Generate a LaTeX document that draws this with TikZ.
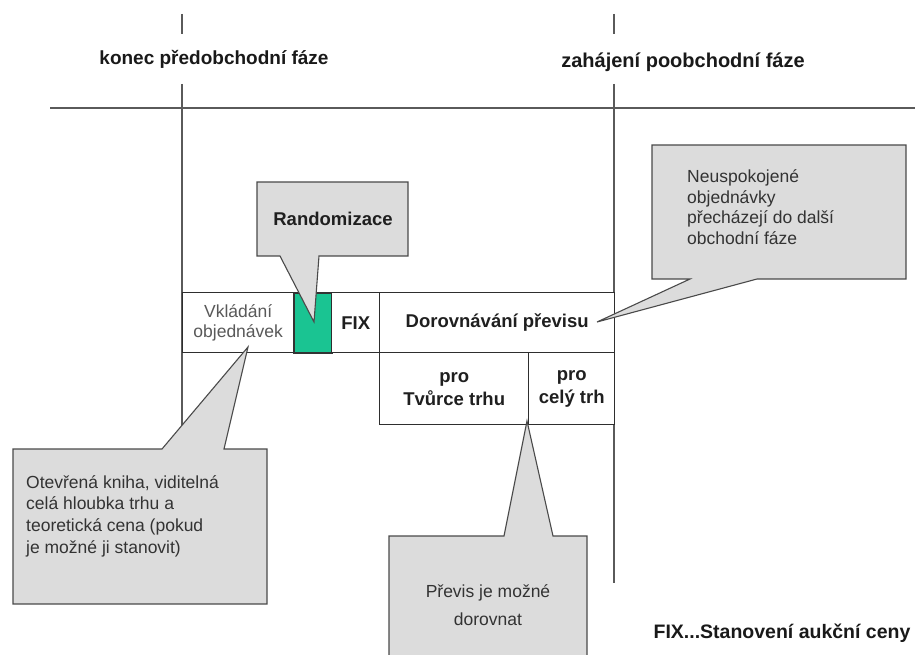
\documentclass[tikz,border=0pt]{standalone}
\usepackage{fontspec}
\setmainfont{Liberation Sans}
\definecolor{framegray}{HTML}{5A5A5A}
\definecolor{boxline}{HTML}{2E2E2E}
\definecolor{calloutfill}{HTML}{DCDCDC}
\definecolor{calloutline}{HTML}{4A4A4A}
\definecolor{calltext}{HTML}{333333}
\definecolor{randgreen}{RGB}{26,196,146}
\tikzset{
  frameline/.style={draw=framegray, line width=1.2pt},
  cellbox/.style={draw=boxline, line width=1.4pt, fill=white, anchor=north west, inner sep=0pt, align=center},
  boldtxt/.style={font=\bfseries\fontsize{18.5}{23}\selectfont, text=black!88},
  regtxt/.style={font=\fontsize{17.5}{20}\selectfont, text=calltext},
  callout/.style={fill=calloutfill, draw=calloutline, line width=1.1pt, line join=miter},
  headtxt/.style={font=\bfseries\fontsize{19}{22}\selectfont, text=black!90, inner sep=0pt}
}
\begin{document}
\begin{tikzpicture}[x=1pt,y=-1pt]
\useasboundingbox (0,0) rectangle (915,655);
% frame lines
\coordinate (lt1) at (182,14); \coordinate (lt2) at (182,34);
\coordinate (lv1) at (182,84); \coordinate (lv2) at (182,450);
\coordinate (rt1) at (614,14); \coordinate (rt2) at (614,34);
\coordinate (rv1) at (614,84); \coordinate (rv2) at (614,583);
\coordinate (h1) at (50,108); \coordinate (h2) at (915,108);
\draw[frameline] (lt1) -- (lt2);
\draw[frameline] (lv1) -- (lv2);
\draw[frameline] (rt1) -- (rt2);
\draw[frameline] (rv1) -- (rv2);
\draw[frameline] (h1) -- (h2);
% headers
\node[headtxt] (hleft) at (214,59) {konec předobchodní fáze};
\node[headtxt, font=\bfseries\fontsize{20}{22}\selectfont] (hright) at (683,62) {zahájení poobchodní fáze};
% boxes
\node[cellbox, minimum width=111pt, minimum height=60pt, regtxt, text=black!65] (vk) at (182,292) {Vkládání\\objednávek};
\node[cellbox, minimum width=38pt, minimum height=60pt, fill=randgreen, draw=black!80, line width=1.8pt] (rg) at (293,292) {};
\node[cellbox, minimum width=48pt, minimum height=60pt, boldtxt] (fix) at (331,292) {FIX};
\node[cellbox, minimum width=235pt, minimum height=60pt, boldtxt] (dor) at (379,292) {Dorovnávání převisu};
\node[cellbox, minimum width=149pt, minimum height=72pt, boldtxt] (tvu) at (379,352) {pro\\Tvůrce trhu};
\node[cellbox, minimum width=86pt, minimum height=72pt, boldtxt] (cel) at (528,352) {pro\\celý trh};
% callout: Randomizace
\coordinate (rtip) at (314,322);
\draw[callout] (257,182) -- (408,182) -- (408,256) -- (319,256) -- (rtip) -- (280,256) -- (257,256) -- cycle;
\node[boldtxt, inner sep=0pt] (rtext) at (333,219) {Randomizace};
% callout: Neuspokojene
\coordinate (ntip) at (597,322);
\draw[callout] (652,145) -- (906,145) -- (906,279) -- (757,279) -- (ntip) -- (690,279) -- (652,279) -- cycle;
\node[regtxt, align=left, anchor=west, inner sep=0pt, font=\fontsize{17.5}{20.6}\selectfont] (ntext) at (687,207) {Neuspokojené\\objednávky\\přecházejí do další\\obchodní fáze};
% callout: Otevrena kniha
\coordinate (otip) at (248,347);
\draw[callout] (13,449) -- (162,449) -- (otip) -- (224,449) -- (267,449) -- (267,604) -- (13,604) -- cycle;
\node[regtxt, align=left, anchor=west, inner sep=0pt, font=\fontsize{17.5}{21.7}\selectfont] (otext) at (26,516) {Otevřená kniha, viditelná\\celá hloubka trhu a\\teoretická cena (pokud\\je možné ji stanovit)};
% callout: Previs
\coordinate (ptip) at (527,421);
\fill[calloutfill] (389,660) -- (389,536) -- (504,536) -- (ptip) -- (553,536) -- (587,536) -- (587,660) -- cycle;
\draw[callout, fill=none] (389,660) -- (389,536) -- (504,536) -- (ptip) -- (553,536) -- (587,536) -- (587,660);
\node[regtxt, align=center, inner sep=0pt, font=\fontsize{17.5}{28}\selectfont] (ptext) at (488,605) {Převis je možné\\dorovnat};
% legend
\node[headtxt, font=\bfseries\fontsize{19.5}{22}\selectfont] (legend) at (782,633) {FIX...Stanovení aukční ceny};
\end{tikzpicture}
\end{document}
